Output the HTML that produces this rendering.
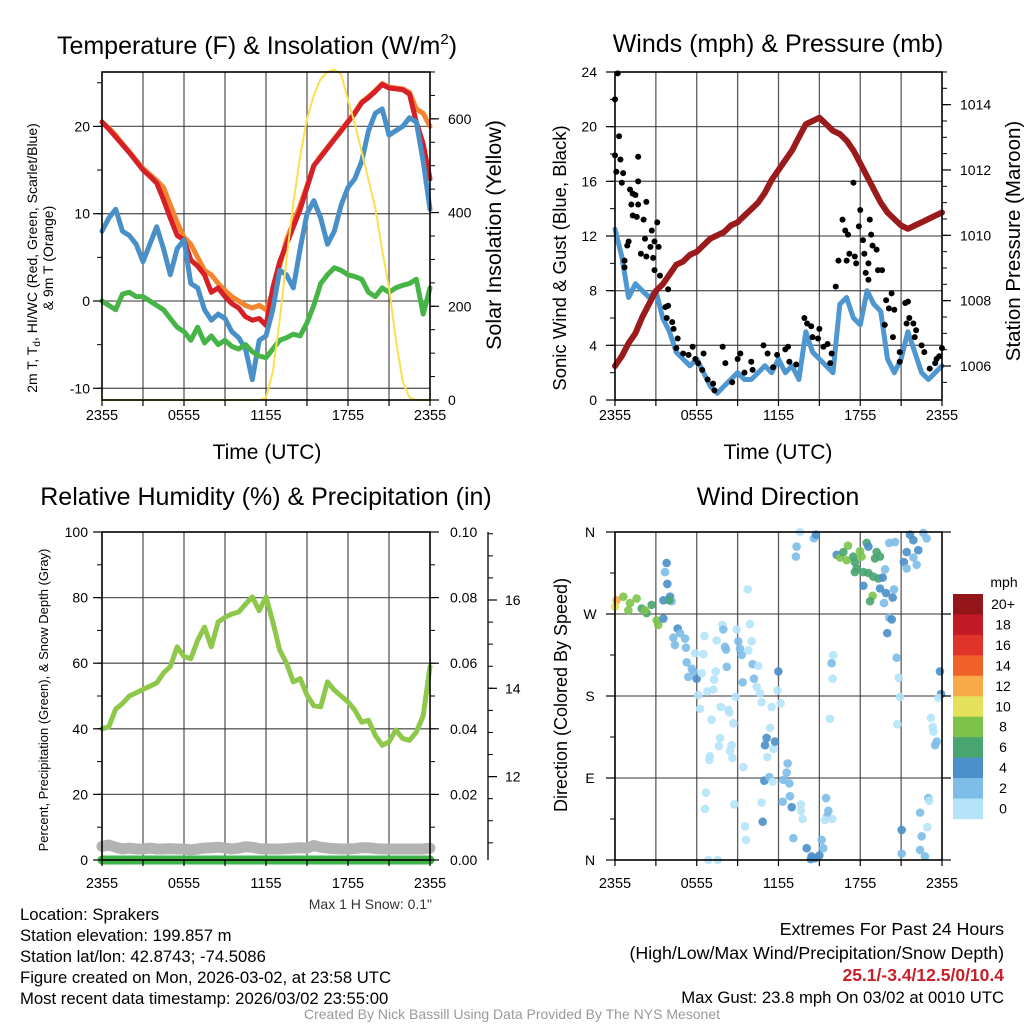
<!DOCTYPE html>
<html><head><meta charset="utf-8"><style>
html,body{margin:0;padding:0;background:#fff}
svg{display:block;font-family:"Liberation Sans",sans-serif}
</style></head><body>
<svg id="c" width="1024" height="1024" viewBox="0 0 1024 1024" xmlns="http://www.w3.org/2000/svg"></svg>
<script>
// ---------- DATA ----------
const hours = [0,0.5,1,1.5,2,2.5,3,3.5,4,4.5,5,5.5,6,6.5,7,7.5,8,8.5,9,9.5,10,10.5,11,11.5,12,12.5,13,13.5,14,14.5,15,15.5,16,16.5,17,17.5,18,18.5,19,19.5,20,20.5,21,21.5,22,22.5,23,23.5,24];
const tempRed = [20.5,19.7,18.8,17.9,17.0,16.0,15.0,14.3,13.5,11.6,9.5,7.5,7.0,4.7,4.0,3.0,1.0,1.5,0.5,-0.3,-0.8,-1.8,-2.2,-2.0,-2.8,1.5,4.5,6.5,8.5,10.5,13.0,15.5,16.5,17.5,18.5,19.5,20.5,21.5,22.7,23.3,24.0,24.8,24.4,24.3,24.2,23.7,20.5,18.0,14.0];
const temp9m = [20.5,19.8,19.0,18.0,17.1,16.1,15.2,14.5,13.8,13.0,11.0,9.0,7.3,6.5,5.0,3.5,3.0,2.0,1.2,0.5,0.0,-0.5,-0.8,-0.5,-1.0,1.0,4.0,7.0,9.0,11.0,13.2,15.5,16.6,17.6,18.6,19.6,20.6,21.6,22.8,23.4,24.1,24.9,24.5,24.4,24.3,23.9,22.0,21.5,20.0];
const windChill = [8.0,9.5,10.5,8.0,7.5,6.5,4.5,6.5,8.5,6.0,3.0,6.0,7.0,2.0,1.5,-1.0,-2.2,-1.5,-2.0,-3.5,-4.2,-5.5,-9.0,-4.5,-4.0,-1.0,3.5,3.0,1.5,6.0,10.0,11.5,9.5,6.5,8.0,11.0,13.0,14.0,16.0,19.5,21.5,22.0,19.0,19.5,20.0,21.0,20.5,16.0,10.5];
const dewpoint = [0,-0.5,-1.0,0.8,1.0,0.5,0.5,0.0,-0.5,-1.0,-2.0,-3.0,-3.5,-4.5,-3.0,-4.8,-4.0,-5.0,-4.5,-5.2,-5.5,-5.0,-5.8,-6.3,-6.5,-5.5,-4.5,-4.2,-3.8,-4.0,-2.5,-0.5,2.0,3.0,3.8,3.5,3.0,2.8,2.5,1.0,0.5,1.5,1.0,1.5,1.8,2.0,2.5,-1.5,1.5];
const insolation = [0,0,0,0,0,0,0,0,0,0,0,0,0,0,0,0,0,0,0,0,0,0,0,0,5,60,170,300,420,520,600,650,685,700,705,695,640,590,530,470,410,320,240,130,40,5,0,0,0];
const windSpeed = [12.5,10.5,7.5,8.5,8.0,7.5,8.0,6.0,5.0,3.5,3.0,2.5,3.0,2.0,1.0,0.5,1.0,1.5,2.0,1.5,1.5,2.0,2.5,2.0,3.0,2.0,2.5,1.5,5.0,3.5,3.0,2.5,2.0,7.0,7.5,6.0,5.5,8.0,7.0,6.5,3.0,2.0,3.0,5.0,3.5,2.0,1.5,2.0,2.5];
const pressure = [1006.0,1006.3,1006.7,1007.0,1007.5,1007.9,1008.3,1008.5,1008.8,1009.1,1009.2,1009.4,1009.5,1009.7,1009.9,1010.0,1010.1,1010.3,1010.4,1010.6,1010.8,1011.0,1011.3,1011.7,1012.0,1012.3,1012.6,1013.0,1013.4,1013.5,1013.6,1013.4,1013.2,1013.1,1012.9,1012.6,1012.2,1011.8,1011.4,1011.0,1010.7,1010.5,1010.3,1010.2,1010.3,1010.4,1010.5,1010.6,1010.7];
const gustTimes = [0.2,0,0.3,0,0.4,0.1,0.6,0.5,1.7,1.1,1.3,1.5,1.7,1.2,1.7,1.3,1.6,2.1,2.3,2.7,3.1,1.0,0.9,0.7,0.7,2.2,1.9,2.3,2.6,2.8,2.9,3.2,2.9,3.3,3.9,3.7,3.9,3.8,4.2,4.3,4.6,4.5,5.0,5.4,5.7,5.9,6.1,6.5,6.4,6.8,7.2,7.3,7.9,8.1,8.6,9.0,9.2,9.5,10.0,10.1,10.9,11.2,11.6,11.9,12.5,12.7,12.8,13.3,13.9,14.1,14.4,14.5,14.9,15.0,15.3,15.6,15.9,15.8,16.2,16.4,16.7,16.9,17.1,17.2,17.0,17.5,17.6,17.7,18.0,17.9,18.2,18.3,18.7,18.8,18.9,19.2,18.6,18.4,18.6,19.3,19.6,20.3,19.9,20.1,20.5,19.8,20.4,20.9,20.9,21.3,21.5,21.4,21.6,21.9,22.1,22.0,22.5,22.7,23.1,23.5,23.6,24.0,23.8];
const gustSpeeds = [23.9,22.0,19.3,17.9,17.6,16.7,16.6,15.9,17.8,15.4,15.1,15.0,16.0,14.3,14.3,13.5,13.4,13.2,14.5,12.4,13.0,11.6,11.3,10.2,9.7,11.8,10.7,10.5,11.2,10.4,11.6,11.2,9.5,9.1,8.1,6.8,6.9,6.0,5.7,5.2,4.5,3.8,3.4,3.3,3.9,3.0,2.7,3.4,2.2,1.5,1.2,0.7,3.9,2.7,1.3,3.0,3.4,2.0,2.8,2.2,4.0,3.4,2.4,3.3,3.7,3.9,2.8,2.6,6.0,5.6,5.4,4.6,4.5,5.2,3.9,4.1,3.4,2.7,8.3,10.2,13.2,12.4,12.1,10.7,10.2,15.9,10.5,10.0,13.9,12.7,11.7,10.7,13.2,12.1,11.3,11.0,10.0,9.3,8.8,9.5,9.5,7.8,7.3,6.7,6.6,5.5,4.6,3.5,2.8,7.1,7.2,5.6,6.0,5.6,5.1,4.6,4.0,3.5,2.3,2.7,3.0,3.8,3.2];
const rhValues = [40,40.6,46,47.7,50,51,52,53,54,57,59,65,62,61.4,67,71,65,72.6,74,75,75.6,78,80.2,76,80.2,72.6,64,60,54.3,55.3,50.3,47,46.7,54.3,51.8,50,48.2,45.7,42,42.6,38,35,36,39.6,37,36.5,39,44,59];
const snowDepth = [10.42,10.45,10.4,10.36,10.38,10.36,10.36,10.38,10.36,10.36,10.37,10.36,10.36,10.34,10.36,10.38,10.39,10.4,10.38,10.36,10.38,10.41,10.4,10.37,10.36,10.36,10.36,10.37,10.38,10.39,10.38,10.44,10.4,10.38,10.37,10.36,10.36,10.37,10.39,10.39,10.37,10.36,10.36,10.36,10.36,10.36,10.36,10.36,10.38];
const precip = [0,0,0,0,0,0,0,0,0,0,0,0,0,0,0,0,0,0,0,0,0,0,0,0,0,0,0,0,0,0,0,0,0,0,0,0,0,0,0,0,0,0,0,0,0,0,0,0,0];
const dirTimes = [0.12,0,0.61,1.1,1.59,0.98,1.96,2.32,2.69,2.2,3.06,3.18,3.55,3.79,3.67,3.84,4.04,3.55,4.16,3.99,4.6,4.28,4.77,5.14,4.4,5.21,5.26,5.63,5.38,5.99,5.75,5.87,6.48,6.56,6.36,6.12,6.24,6.78,7.22,7.27,7.39,7.46,7.88,7.95,8.07,8.15,8.2,8.93,9.05,9.17,9.3,9.79,10.03,9.91,9.74,10.1,10.52,10.2,10.4,10.64,10.76,9.37,8.86,7.76,8.32,8.39,8.69,7.09,7.71,7.63,8.56,8.44,8.61,9.42,6.97,6.92,6.68,6.61,8.76,9.54,9.61,10.76,10.84,11.13,11.01,11.18,10.96,6.85,7.54,
13.58,14.6,14.75,13.33,13.28,16.27,16.51,17.1,16.76,17.0,17.49,17.61,17.98,18.1,18.47,17.74,17.61,18.23,18.6,18.96,19.33,19.08,19.45,19.2,18.6,19.82,19.65,18.23,18.91,18.72,19.45,19.89,20.48,20.38,19.74,20.13,20.55,21.65,21.9,22.63,22.87,22.26,21.41,21.9,21.2,21.41,22.14,20.13,20.31,19.98,20.67,20.82,20.92,20.72,16.02,15.9,15.97,15.78,23.85,23.93,23.73,23.18,23.32,23.37,23.61,23.49,22.99,23.07,22.39,22.92,22.51,21.04,22.39,22.75,21.04,15.49,15.66,15.58,15.41,15.95,15.17,15.29,15.0,14.43,14.07,14.68,14.37,13.09,13.65,13.65,13.77,12.97,12.84,12.31,12.8,12.6,12.67,12.35,11.33,11.57,11.62,11.74,11.38,12.16,11.5,11.92,11.99];
const dirDegrees = [285,278,289,282,287,274,276,271,280,274,263,258,265,326,316,303,289,285,284,285,254,244,249,243,236,233,217,210,201,199,207,227,226,246,205,181,166,185,187,198,207,241,258,253,234,231,212,253,240,232,225,230,240,259,297,215,213,199,190,183,173,195,179,168,165,162,150,154,134,125,126,120,112,102,114,110,74,56,61,37,22,63,42,134,126,113,87,0,0,
360,353,357,344,333,335,332,345,338,329,333,327,339,333,348,320,316,316,315,311,309,331,333,338,344,319,310,301,290,284,298,293,297,288,282,348,349,357,351,359,353,340,338,332,327,320,324,266,264,249,222,200,179,149,225,216,199,155,207,182,178,156,146,141,130,126,68,65,52,36,26,33,11,4,7,68,54,48,44,45,22,13,5,4,13,2,1,24,61,54,45,58,70,64,84,96,106,88,91,86,122,130,145,172,168,186,207];
const dirSpeeds = [12,10,8,8,8,8,6,6,6,8,8,8,4,4,2,4,4,4,2,6,4,2,2,2,2,2,2,2,2,4,2,0,0,0,0,0,0,0,0,0,0,0,0,2,2,2,2,0,2,2,2,0,0,0,0,2,0,2,0,0,0,2,0,0,0,0,0,0,0,0,0,0,0,0,0,0,0,0,0,0,0,0,4,4,4,0,4,0,0,
0,2,4,2,2,4,8,8,6,8,6,6,8,8,6,6,6,6,6,6,6,6,6,6,4,2,4,4,8,6,4,4,2,4,2,2,2,4,4,2,2,4,4,2,4,2,2,2,4,4,2,0,0,0,0,2,0,0,4,4,0,0,0,0,2,2,2,0,2,0,2,4,2,2,2,2,2,2,0,0,2,2,4,4,4,4,4,2,0,0,0,4,2,2,2,2,2,2,2,0,0,4,0,0,0,0,4];
const speedBins = [0,2,4,6,8,10,12,14,16,18,20];
const speedLabels = ["0","2","4","6","8","10","12","14","16","18","20+"];
const speedColors = ["#b5e3f8","#7dbde7","#4a8fc9","#48a56f","#7dc34b","#e6e15b","#f7aa47","#f1622b","#e0332a","#c21b26","#931419"];
const timeTicks = [0,6,12,18,24];
const timeLabels = ["2355","0555","1155","1755","2355"];

// ---------- HELPERS ----------
const NS="http://www.w3.org/2000/svg";
const svg=document.getElementById('c');
function el(tag,attrs,parent){const e=document.createElementNS(NS,tag);for(const k in attrs)e.setAttribute(k,attrs[k]);(parent||svg).appendChild(e);return e;}
function txt(s,x,y,size,anchor,extra){const e=el('text',Object.assign({x:x,y:y,'font-size':size,'text-anchor':anchor||'middle',fill:'#000'},extra||{}));e.textContent=s;return e;}
function pathOf(xs,ys,fx,fy){let d='';for(let i=0;i<xs.length;i++){d+=(i?'L':'M')+fx(xs[i]).toFixed(1)+','+fy(ys[i]).toFixed(1);}return d;}

const X1=t=>102+t*13.667, X2=t=>615+t*13.625;
const yT=v=>301-v*8.73, yS=v=>400-v*0.4686;
const yW=v=>400-v*13.667, yP=p=>366-(p-1006)*32.67;
const yRH=v=>860-v*3.28, yPr=v=>860-v*3280, ySn=v=>600+(16-v)*44.15;
const yD=d=>860-d*0.9111;

function grid(x0,x1,y0,y1,hs,name){
  const g=el('g',{});
  
  
  for(let i=1;i<8;i++){const x=x0+(x1-x0)*i/8;el('line',{x1:x,x2:x,y1:y0,y2:y1,stroke:'#333','stroke-width':1.3,'stroke-opacity':0.8},g);}
  hs.forEach(y=>el('line',{x1:x0,x2:x1,y1:y,y2:y,stroke:'#333','stroke-width':1.3,'stroke-opacity':0.8},g));
}
function frame(x0,x1,y0,y1,name){const r=el('rect',{x:x0,y:y0,width:x1-x0,height:y1-y0,fill:'none',stroke:'#000','stroke-width':1.6});}
function xAxis(fx,yb,name,ly){
  const g=el('g',{});
  for(let t=0;t<=24;t+=3){el('line',{x1:fx(t),x2:fx(t),y1:yb,y2:yb+6,stroke:'#000','stroke-width':1.2},g);}
  timeTicks.forEach((t,i)=>{const e=txt(timeLabels[i],fx(t),ly,14.5,'middle');g.appendChild(e);});
}
function yTicks(x,vals,fy,labels,side,minor,name,lx){
  const g=el('g',{});
  const dir=side==='left'?-1:1;
  minor.forEach(v=>el('line',{x1:x,x2:x+dir*5,y1:fy(v),y2:fy(v),stroke:'#000','stroke-width':1},g));
  vals.forEach((v,i)=>{el('line',{x1:x,x2:x+dir*9,y1:fy(v),y2:fy(v),stroke:'#000','stroke-width':1.2},g);
    const e=txt(labels[i],lx,fy(v)+5,14,side==='left'?'end':'start');g.appendChild(e);});
}
function range(a,b,s){const r=[];for(let v=a;v<=b+1e-9;v+=s)r.push(+v.toFixed(4));return r;}

// ---------- PANEL 1 ----------
grid(102,430,72,400,[yT(20),yT(10),yT(0),yT(-10)],'temp-grid');
const p1=el('g',{'stroke-linejoin':'round','stroke-linecap':'round',fill:'none'});

let e;
e=el('path',{d:pathOf(hours,temp9m,X1,yT),stroke:'#f5842f','stroke-width':5},p1);
e=el('path',{d:pathOf(hours,tempRed,X1,yT),stroke:'#d42026','stroke-width':5},p1);
e=el('path',{d:pathOf(hours,windChill,X1,yT),stroke:'#4a90c8','stroke-width':5},p1);
e=el('path',{d:pathOf(hours,dewpoint,X1,yT),stroke:'#46b446','stroke-width':5},p1);
e=el('path',{d:pathOf(hours,insolation,X1,yS),stroke:'#fbe04e','stroke-width':2},p1);
frame(102,430,72,400,'temp-plot-frame');
xAxis(X1,400,'temp-x-axis',420);
yTicks(102,[-10,0,10,20],yT,['-10','0','10','20'],'left',range(-10,25,5),'temp-y-axis',90);
yTicks(430,[0,200,400,600],yS,['0','200','400','600'],'right',range(0,700,50),'insolation-y-axis',448);
e=txt('Temperature (F) & Insolation (W/m',257,54,25,'middle');
const sup=el('tspan',{dy:-10,'font-size':15});sup.textContent='2';e.appendChild(sup);const cl=el('tspan',{dy:10});cl.textContent=')';e.appendChild(cl);
e=txt('Time (UTC)',267,459,21);
e=txt('2m T, T',0,0,14,'middle',{transform:'translate(37,258) rotate(-90)'});
const sub=el('tspan',{dy:3,'font-size':10});sub.textContent='d';e.appendChild(sub);const rest=el('tspan',{dy:-3});rest.textContent=', HI/WC (Red, Green, Scarlet/Blue)';e.appendChild(rest);

e=txt('& 9m T (Orange)',0,0,14,'middle',{transform:'translate(53,258) rotate(-90)'});
e=txt('Solar Insolation (Yellow)',0,0,21.5,'middle',{transform:'translate(501,235) rotate(-90)'});

// ---------- PANEL 2 ----------
grid(615,942,72,400,[yW(4),yW(8),yW(12),yW(16),yW(20)],'wind-grid');
const p2=el('g',{'stroke-linejoin':'round','stroke-linecap':'round',fill:'none'});

e=el('path',{d:pathOf(hours,windSpeed,X2,yW),stroke:'#4f97d1','stroke-width':5},p2);
const gg=el('g',{});
gustTimes.forEach((t,i)=>{const c=el('circle',{cx:X2(t),cy:yW(gustSpeeds[i]),r:3,fill:'#000'},gg);

});
e=el('path',{d:pathOf(hours,pressure,X2,yP),stroke:'#9b1a1c','stroke-width':6,fill:'none','stroke-linejoin':'round','stroke-linecap':'round'});
frame(615,942,72,400,'wind-plot-frame');
xAxis(X2,400,'wind-x-axis',420);
yTicks(615,[0,4,8,12,16,20,24],yW,['0','4','8','12','16','20','24'],'left',range(0,24,2),'wind-y-axis',597);
yTicks(942,[1006,1008,1010,1012,1014],yP,['1006','1008','1010','1012','1014'],'right',range(1005.5,1015,0.5),'pressure-y-axis',960);
e=txt('Winds (mph) & Pressure (mb)',778,52,25);
e=txt('Time (UTC)',778,459,21);
e=txt('Sonic Wind & Gust (Blue, Black)',0,0,18.5,'middle',{transform:'translate(566,258) rotate(-90)'});
e=txt('Station Pressure (Maroon)',0,0,20.5,'middle',{transform:'translate(1020,241) rotate(-90)'});

// ---------- PANEL 3 ----------
grid(102,430,532,860,[yRH(20),yRH(40),yRH(60),yRH(80)],'rh-grid');
const p3=el('g',{'stroke-linejoin':'round','stroke-linecap':'round',fill:'none'});

e=el('path',{d:pathOf(hours,snowDepth,X1,ySn),stroke:'#b3b3b3','stroke-width':11},p3);
e=el('path',{d:pathOf(hours,precip,X1,yPr),stroke:'#3fb34a','stroke-width':9},p3);
e=el('path',{d:pathOf(hours,rhValues,X1,yRH),stroke:'#8dc84a','stroke-width':5},p3);
frame(102,430,532,860,'rh-plot-frame');
xAxis(X1,860,'rh-x-axis',888);
yTicks(102,[0,20,40,60,80,100],yRH,['0','20','40','60','80','100'],'left',range(0,100,10),'rh-y-axis',88);
yTicks(430,[0,0.02,0.04,0.06,0.08,0.1],yPr,['0.00','0.02','0.04','0.06','0.08','0.10'],'right',range(0,0.1,0.01),'precip-y-axis',450);
e=el('line',{x1:488,x2:488,y1:532,y2:860,stroke:'#000','stroke-width':1.3});
yTicks(488,[12,14,16],ySn,['12','14','16'],'right',range(10.5,17.5,0.5),'snow-y-axis',505);
e=txt('Relative Humidity (%) & Precipitation (in)',266,505,25);
e=txt('Percent, Precipitation (Green), & Snow Depth (Gray)',0,0,13,'middle',{transform:'translate(48,700) rotate(-90)'});
e=txt('Max 1 H Snow: 0.1"',432,909,14,'end',{fill:'#333'});

// ---------- PANEL 4 ----------
grid(615,942,532,860,[yD(90),yD(180),yD(270)],'dir-grid');
const p4=el('g',{});
function colorFor(s){let k=0;for(let i=0;i<speedBins.length;i++){if(s>=speedBins[i])k=i;}return speedColors[k];}
dirTimes.forEach((t,i)=>{const c=el('circle',{cx:X2(t),cy:yD(dirDegrees[i]),r:4.3,fill:colorFor(dirSpeeds[i]),'fill-opacity':0.9},p4);

});
frame(615,942,532,860,'dir-plot-frame');
xAxis(X2,860,'dir-x-axis',888);
const dg=el('g',{});
[[0,'N'],[90,'E'],[180,'S'],[270,'W'],[360,'N']].forEach(p=>{el('line',{x1:606,x2:615,y1:yD(p[0]),y2:yD(p[0]),stroke:'#000','stroke-width':1.2},dg);el('line',{x1:942,x2:951,y1:yD(p[0]),y2:yD(p[0]),stroke:'#000','stroke-width':1.2},dg);dg.appendChild(txt(p[1],590,yD(p[0])+5,14,'middle'));});
[45,135,225,315].forEach(v=>{el('line',{x1:610,x2:615,y1:yD(v),y2:yD(v),stroke:'#000'},dg);});
e=txt('Wind Direction',778,505,25);
e=txt('Direction (Colored By Speed)',0,0,18,'middle',{transform:'translate(567,695) rotate(-90)'});
const cb=el('g',{});
const cbTop=594,cbH=20.45;
for(let i=0;i<speedColors.length;i++){const k=speedColors.length-1-i;
  const r=el('rect',{x:953,y:cbTop+i*cbH,width:30,height:cbH+0.3,fill:speedColors[k]},cb);
  
  
  cb.appendChild(txt(speedLabels[k],1003,cbTop+i*cbH+15,14,'middle'));}
cb.appendChild(txt('mph',1004,587,14,'middle'));

// ---------- FOOTER ----------
const info=['Location: Sprakers','Station elevation: 199.857 m','Station lat/lon: 42.8743; -74.5086','Figure created on Mon, 2026-03-02, at 23:58 UTC','Most recent data timestamp: 2026/03/02 23:55:00'];
info.forEach((s,i)=>{const t=txt(s,20,920+i*21,16.7,'start');});
e=txt('Extremes For Past 24 Hours',1004,935,17.8,'end');
e=txt('(High/Low/Max Wind/Precipitation/Snow Depth)',1004,959,17.8,'end');
e=txt('25.1/-3.4/12.5/0/10.4',1004,981,17.5,'end',{fill:'#c8202a','font-weight':'bold'});
e=txt('Max Gust: 23.8 mph On 03/02 at 0010 UTC',1004,1003,16.7,'end');
e=txt('Created By Nick Bassill Using Data Provided By The NYS Mesonet',512,1019,14,'middle',{fill:'#999'});
</script>
</body></html>
